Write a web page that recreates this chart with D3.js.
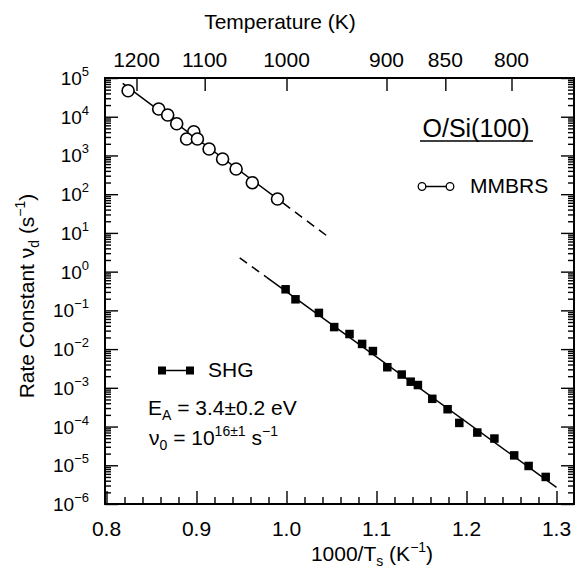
<!DOCTYPE html>
<html>
<head>
<meta charset="utf-8">
<script src="https://cdn.jsdelivr.net/npm/d3@7"></script>
<style>
  body { margin: 0; background: #fff; }
  text { font-family: "Liberation Sans", Arial, Helvetica, sans-serif; fill: #000; }
</style>
</head>
<body>
<div id="chart"></div>
<script>
// MMBRS (open circles): 1000/Ts and rate constant
const mmbrsX = [0.824, 0.858, 0.868, 0.878, 0.897, 0.889, 0.901, 0.914, 0.929, 0.944, 0.962, 0.990];
const mmbrsY = [4.7e4, 1.58e4, 1.11e4, 6.6e3, 4.1e3, 2.66e3, 2.66e3, 1.47e3, 811, 448, 198, 75];

// SHG (filled squares)
const shgX = [0.999, 1.010, 1.036, 1.053, 1.070, 1.084, 1.096, 1.112, 1.128, 1.138, 1.146,
              1.162, 1.179, 1.192, 1.212, 1.231, 1.253, 1.269, 1.288];
const shgY = [0.35, 0.193, 0.086, 0.037, 0.0245, 0.0136, 0.0089, 0.0034, 0.0022, 0.00144, 0.00118,
              5.2e-4, 2.8e-4, 1.24e-4, 7.0e-5, 4.9e-5, 1.8e-5, 9.6e-6, 5.0e-6];

// Arrhenius fits: log10(nu) = a + b * (1000/T)
const mmbrsFit = { a: 19.044, b: -17.34, solid: [0.818, 0.996], dashed: [0.996, 1.046] };
const shgFit = { a: 16.31, b: -16.83, solid: [0.978, 1.300], dashed: [0.948, 0.978] };

const xTicks = [0.8, 0.9, 1.0, 1.1, 1.2, 1.3];
const tempTicks = [1200, 1100, 1000, 900, 850, 800];
const yExponents = [5, 4, 3, 2, 1, 0, -1, -2, -3, -4, -5, -6];

const width = 577, height = 569;
const plotLeft = 105, plotRight = 574, plotTop = 78, plotBottom = 504;

const svg = d3.select("#chart").append("svg")
    .attr("width", width)
    .attr("height", height);

const x = d3.scaleLinear().domain([0.8, 1.3]).range([106.5, 556.5]);
const y = d3.scaleLog().domain([1e-6, 1e5]).range([plotBottom, plotTop]);

// minor ticks
const xMinor = d3.range(0.82, 1.319, 0.02).filter(v => Math.abs(v * 10 - Math.round(v * 10)) > 1e-6);
const yMinor = [];
for (let e = -6; e < 5; e++) {
    for (let m = 2; m <= 9; m++) yMinor.push(m * Math.pow(10, e));
}

const tickStyle = g => {
    g.select(".domain").remove();
    g.selectAll("line").attr("stroke", "#000").attr("stroke-width", 1.4);
    g.selectAll("text").remove();
};

// bottom axis (ticks pointing up)
svg.append("g").attr("transform", `translate(0,${plotBottom})`)
    .call(d3.axisBottom(x).tickValues(xTicks).tickSizeInner(-13).tickSizeOuter(0)).call(tickStyle);
svg.append("g").attr("transform", `translate(0,${plotBottom})`)
    .call(d3.axisBottom(x).tickValues(xMinor).tickSizeInner(-7).tickSizeOuter(0)).call(tickStyle);

svg.append("g").selectAll("text")
    .data(xTicks)
    .enter().append("text")
    .attr("x", d => x(d))
    .attr("y", 536)
    .attr("text-anchor", "middle")
    .attr("font-size", 21)
    .text(d => d.toFixed(1));

// top axis: temperature
svg.append("g").attr("transform", `translate(0,${plotTop})`)
    .call(d3.axisTop(x).tickValues(tempTicks.map(t => 1000 / t)).tickSizeInner(-13).tickSizeOuter(0))
    .call(tickStyle);

svg.append("g").selectAll("text")
    .data(tempTicks)
    .enter().append("text")
    .attr("x", d => x(1000 / d))
    .attr("y", 67)
    .attr("text-anchor", "middle")
    .attr("font-size", 21)
    .text(d => d);

// left and right axes
[[plotLeft, 1], [plotRight, -1]].forEach(([px, dir]) => {
    svg.append("g").attr("transform", `translate(${px},0)`)
        .call(d3.axisLeft(y).tickValues(yExponents.map(e => Math.pow(10, e))).tickSizeInner(-13 * dir).tickSizeOuter(0))
        .call(tickStyle);
    svg.append("g").attr("transform", `translate(${px},0)`)
        .call(d3.axisLeft(y).tickValues(yMinor).tickSizeInner(-6 * dir).tickSizeOuter(0))
        .call(tickStyle);
});

const yLab = svg.append("g").selectAll("text")
    .data(yExponents)
    .enter().append("text")
    .attr("x", 89)
    .attr("y", d => y(Math.pow(10, d)) + 7)
    .attr("text-anchor", "end")
    .attr("font-size", 19);
yLab.append("tspan").text("10");
yLab.append("tspan")
    .attr("font-size", 13)
    .attr("dy", -9)
    .text(d => d < 0 ? "\u2212" + Math.abs(d) : d);

// frame
svg.append("rect")
    .attr("x", plotLeft).attr("y", plotTop)
    .attr("width", plotRight - plotLeft).attr("height", plotBottom - plotTop)
    .attr("fill", "none").attr("stroke", "#000").attr("stroke-width", 2);

// fit lines
const line = d3.line().x(d => x(d[0])).y(d => y(d[1]));
[mmbrsFit, shgFit].forEach(f => {
    const seg = r => r.map(v => [v, Math.pow(10, f.a + f.b * v)]);
    svg.append("path").attr("d", line(seg(f.solid)))
        .attr("fill", "none").attr("stroke", "#000").attr("stroke-width", 1.5);
    svg.append("path").attr("d", line(seg(f.dashed)))
        .attr("fill", "none").attr("stroke", "#000").attr("stroke-width", 1.5)
        .attr("stroke-dasharray", "9,6");
});

// MMBRS points
svg.append("g").selectAll("circle")
    .data(mmbrsX.map((v, i) => [v, mmbrsY[i]]))
    .enter().append("circle")
    .attr("cx", d => x(d[0]))
    .attr("cy", d => y(d[1]))
    .attr("r", 6)
    .attr("fill", "#fff")
    .attr("stroke", "#000")
    .attr("stroke-width", 1.6);

// SHG points
const sq = 8.5;
svg.append("g").selectAll("rect")
    .data(shgX.map((v, i) => [v, shgY[i]]))
    .enter().append("rect")
    .attr("x", d => x(d[0]) - sq / 2)
    .attr("y", d => y(d[1]) - sq / 2)
    .attr("width", sq)
    .attr("height", sq)
    .attr("fill", "#000");

// axis titles
svg.append("text")
    .attr("x", 280).attr("y", 29)
    .attr("text-anchor", "middle")
    .attr("font-size", 21)
    .text("Temperature (K)");

const xt = svg.append("text")
    .attr("x", 372).attr("y", 561)
    .attr("text-anchor", "middle")
    .attr("font-size", 21);
xt.append("tspan").text("1000/T");
xt.append("tspan").attr("font-size", 14).attr("dy", 5).text("s");
xt.append("tspan").attr("dy", -5).text(" (K");
xt.append("tspan").attr("font-size", 14).attr("dy", -9).text("\u22121");
xt.append("tspan").attr("dy", 9).text(")");

const yt = svg.append("text")
    .attr("transform", "translate(34,296) rotate(-90)")
    .attr("text-anchor", "middle")
    .attr("font-size", 21);
yt.append("tspan").text("Rate Constant \u03bd");
yt.append("tspan").attr("font-size", 14).attr("dy", 5).text("d");
yt.append("tspan").attr("dy", -5).text(" (s");
yt.append("tspan").attr("font-size", 14).attr("dy", -9).text("\u22121");
yt.append("tspan").attr("dy", 9).text(")");

// sample label
svg.append("text")
    .attr("x", 476).attr("y", 137)
    .attr("text-anchor", "middle")
    .attr("font-size", 25)
    .text("O/Si(100)");
svg.append("line")
    .attr("x1", 420).attr("x2", 533)
    .attr("y1", 141).attr("y2", 141)
    .attr("stroke", "#000").attr("stroke-width", 1.5);

// MMBRS legend
svg.append("line").attr("x1", 422).attr("x2", 450).attr("y1", 186.5).attr("y2", 186.5)
    .attr("stroke", "#000").attr("stroke-width", 1.5);
svg.append("g").selectAll("circle")
    .data([422, 450])
    .enter().append("circle")
    .attr("cx", d => d).attr("cy", 186.5).attr("r", 3.8)
    .attr("fill", "#fff").attr("stroke", "#000").attr("stroke-width", 1.3);
svg.append("text").attr("x", 470).attr("y", 193).attr("font-size", 21).text("MMBRS");

// SHG legend
svg.append("line").attr("x1", 162).attr("x2", 190).attr("y1", 370.5).attr("y2", 370.5)
    .attr("stroke", "#000").attr("stroke-width", 1.5);
svg.append("g").selectAll("rect")
    .data([162, 190])
    .enter().append("rect")
    .attr("x", d => d - 4).attr("y", 366.5).attr("width", 8).attr("height", 8)
    .attr("fill", "#000");
svg.append("text").attr("x", 208).attr("y", 377).attr("font-size", 21).text("SHG");

// fit parameters
const ea = svg.append("text").attr("x", 148).attr("y", 415).attr("font-size", 21);
ea.append("tspan").text("E");
ea.append("tspan").attr("font-size", 14).attr("dy", 5).text("A");
ea.append("tspan").attr("dy", -5).text(" = 3.4\u00b10.2 eV");

const nu = svg.append("text").attr("x", 149).attr("y", 445).attr("font-size", 21);
nu.append("tspan").text("\u03bd");
nu.append("tspan").attr("font-size", 14).attr("dy", 5).text("0");
nu.append("tspan").attr("dy", -5).text(" = 10");
nu.append("tspan").attr("font-size", 14).attr("dy", -9).text("16\u00b11");
nu.append("tspan").attr("dy", 9).text(" s");
nu.append("tspan").attr("font-size", 14).attr("dy", -9).text("\u22121");
</script>
</body>
</html>
